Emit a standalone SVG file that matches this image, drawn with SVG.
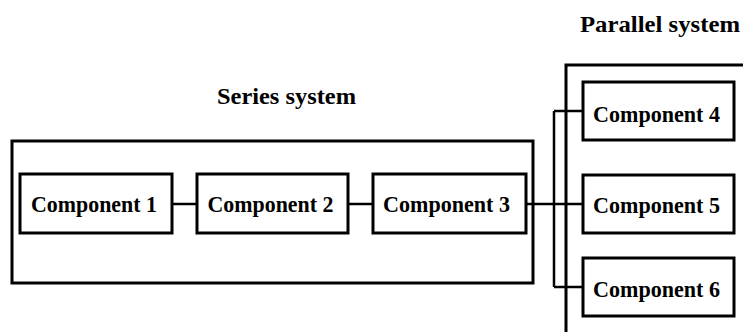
<svg xmlns="http://www.w3.org/2000/svg" width="743" height="332" viewBox="0 0 743 332">
<style>
.frame{fill:none;stroke:#000;stroke-width:3}
.box{fill:#fff;stroke:#000;stroke-width:3}
.wire{fill:none;stroke:#000;stroke-width:2.5}
.lbl{font-family:"Liberation Serif","Times New Roman",serif;font-weight:bold;font-size:23px;fill:#000}
.title{font-family:"Liberation Serif","Times New Roman",serif;font-weight:bold;font-size:24px;fill:#000}
</style>
<rect width="743" height="332" fill="#fff"/>
<g id="series-system">
<rect class="frame" x="12" y="141" width="521" height="142"/>
<text class="title" x="217" y="104" textLength="139" lengthAdjust="spacingAndGlyphs">Series system</text>
</g>
<g id="parallel-system">
<rect class="frame" x="566" y="65" width="200" height="300"/>
<text class="title" x="580" y="32" textLength="160" lengthAdjust="spacingAndGlyphs">Parallel system</text>
</g>
<g id="connectors">
<path class="wire" d="M172 204H197M348 204H373M526 204H583M554 111V287M554 111H583M554 287H583"/>
</g>
<g id="component-1">
<rect class="box" x="20" y="174" width="152" height="59"/>
<text class="lbl" x="31" y="212" textLength="126" lengthAdjust="spacingAndGlyphs">Component 1</text>
</g>
<g id="component-2">
<rect class="box" x="197" y="174" width="151" height="59"/>
<text class="lbl" x="207.5" y="212" textLength="126" lengthAdjust="spacingAndGlyphs">Component 2</text>
</g>
<g id="component-3">
<rect class="box" x="373" y="174" width="153" height="59"/>
<text class="lbl" x="383" y="212" textLength="127" lengthAdjust="spacingAndGlyphs">Component 3</text>
</g>
<g id="component-4">
<rect class="box" x="583" y="82" width="151" height="58"/>
<text class="lbl" x="593" y="121.5" textLength="127" lengthAdjust="spacingAndGlyphs">Component 4</text>
</g>
<g id="component-5">
<rect class="box" x="583" y="175" width="151" height="58"/>
<text class="lbl" x="593" y="212.5" textLength="127" lengthAdjust="spacingAndGlyphs">Component 5</text>
</g>
<g id="component-6">
<rect class="box" x="583" y="258" width="151" height="58"/>
<text class="lbl" x="593" y="296.5" textLength="127" lengthAdjust="spacingAndGlyphs">Component 6</text>
</g>
</svg>
